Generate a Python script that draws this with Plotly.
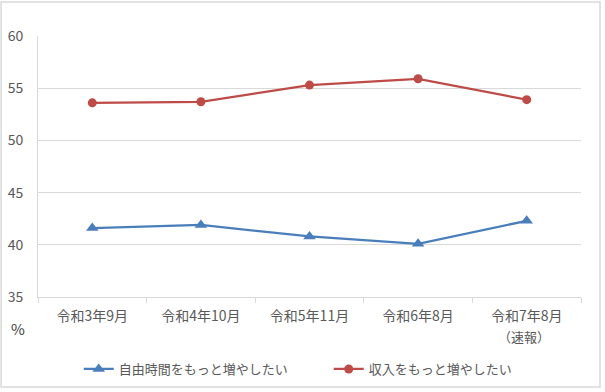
import plotly.graph_objects as go

categories = ["令和3年9月", "令和4年10月", "令和5年11月", "令和6年8月", "令和7年8月"]
category_notes = ["", "", "", "", "（速報）"]
free_time = [41.6, 41.9, 40.8, 40.1, 42.3]
income = [53.6, 53.7, 55.3, 55.9, 53.9]
series_names = ["自由時間をもっと増やしたい", "収入をもっと増やしたい"]
y_ticks = [35, 40, 45, 50, 55, 60]

FONT = "Noto Sans CJK JP, Meiryo UI, sans-serif"
TXT = "#595959"
GRID = "#d9d9d9"

fig = go.Figure()
fig.add_trace(go.Scatter(
    x=categories, y=free_time, name=series_names[0], mode="lines+markers",
    line=dict(color="#4a7ebb", width=2.25),
    marker=dict(symbol="triangle-up", size=11, color="#4a7ebb"),
))
fig.add_trace(go.Scatter(
    x=categories, y=income, name=series_names[1], mode="lines+markers",
    line=dict(color="#be4b48", width=2.25),
    marker=dict(symbol="circle", size=9, color="#be4b48"),
))

annotations = [dict(text="%", x=-0.037, y=-0.119, xref="paper", yref="paper",
                    xanchor="center", yanchor="middle",
                    showarrow=False, font=dict(size=15, color="#404040"))]
for cat, note in zip(categories, category_notes):
    if note:
        annotations.append(dict(text=note, x=cat, y=-0.153, xref="x", yref="paper",
                                xanchor="center", yanchor="middle", showarrow=False,
                                xshift=-3, font=dict(size=13, color=TXT)))

fig.update_layout(
    width=605, height=392,
    margin=dict(l=38, r=24, t=36, b=95, autoexpand=False),
    paper_bgcolor="white", plot_bgcolor="white",
    font=dict(family=FONT, size=13, color=TXT),
    showlegend=True,
    legend=dict(orientation="h", x=0.075, xanchor="left", y=-0.276, yanchor="middle",
                font=dict(size=13, color=TXT), traceorder="normal",
                itemwidth=30, tracegroupgap=0,
                entrywidth=205, entrywidthmode="pixels"),
    xaxis=dict(
        type="category", range=[-0.5, len(categories) - 0.5],
        showgrid=False, showline=True, linecolor=GRID, linewidth=1,
        ticks="outside", tickson="boundaries", ticklen=5, tickcolor=GRID,
        tickfont=dict(size=14, color=TXT), ticklabelstandoff=6, fixedrange=True,
        automargin=False,
    ),
    yaxis=dict(
        range=[35, 60], tickvals=y_ticks, showgrid=True, gridcolor=GRID, gridwidth=1,
        showline=True, linecolor=GRID, linewidth=1, zeroline=False,
        ticks="", tickfont=dict(size=14, color=TXT), ticklabelstandoff=11,
        automargin=False,
    ),
    annotations=annotations,
    shapes=[dict(type="rect", xref="paper", yref="paper",
                 x0=-0.068, x1=1.035, y0=-0.345, y1=1.130,
                 line=dict(color=GRID, width=1.5), fillcolor="rgba(0,0,0,0)")],
)

fig.write_html(
    "out.html",
    config={"displayModeBar": False},
    post_script="document.body.style.margin='0';document.body.style.padding='0';"
                "document.body.style.overflow='hidden';",
)
